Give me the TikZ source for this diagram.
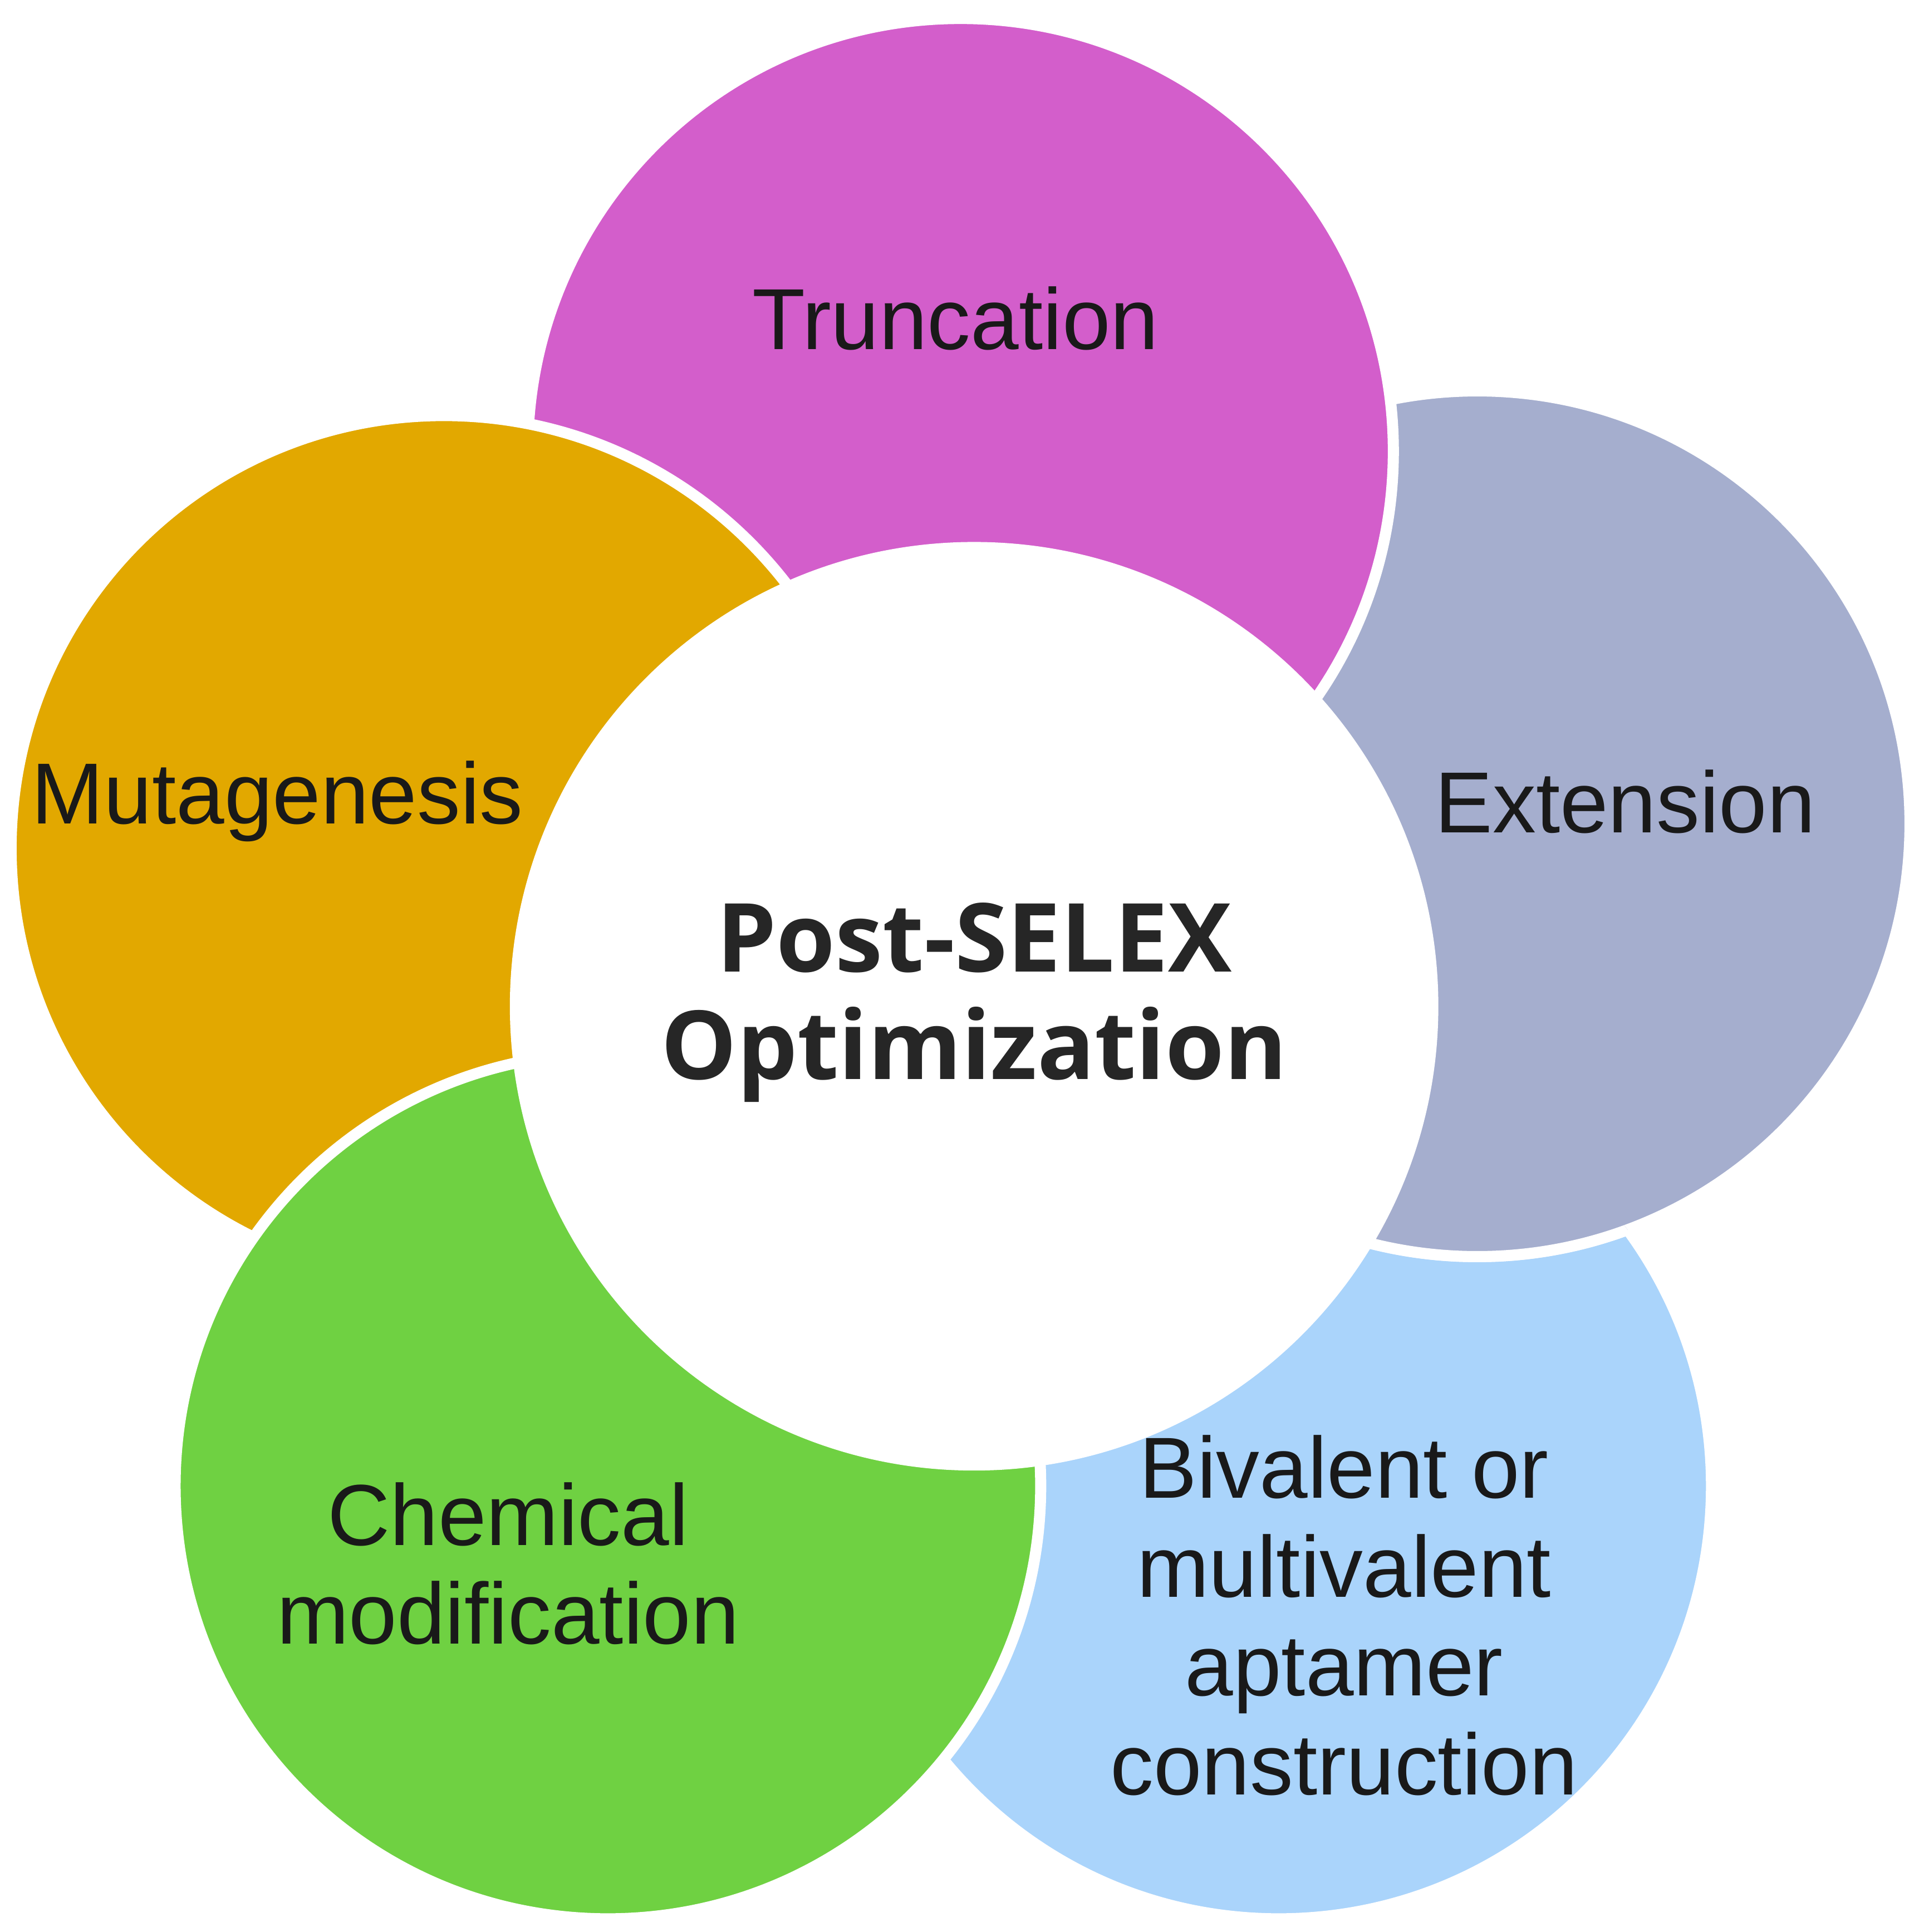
\documentclass[tikz,border=0pt]{standalone}
\usepackage{fontspec}
\setmainfont{Liberation Sans}
\newfontfamily\ctrfont{Open Sans}
\definecolor{cmag}{HTML}{D35ECB}
\definecolor{cgry}{HTML}{A5AECE}
\definecolor{cblu}{HTML}{AAD4FB}
\definecolor{cgrn}{HTML}{6FD142}
\definecolor{corg}{HTML}{E2A800}
\tikzset{petal/.style={circle,draw=white,line width=0.09cm,minimum size=7.02cm,inner sep=0pt},
 lab/.style={align=center,font=\fontsize{20}{22.8}\selectfont,text=black!90}}
\begin{document}
\begin{tikzpicture}
\useasboundingbox (0,0) rectangle (15.6,-15.667);
\node[petal,fill=cblu] (blu) at (10.37,-12.05) {};
\node[petal,fill=cgry] (gry) at (11.98,-6.68) {};
\node[petal,fill=cmag] (mag) at (7.79,-3.66) {};
\node[petal,fill=corg] (org) at (3.60,-6.88) {};
\node[petal,fill=cgrn] (grn) at (4.93,-12.05) {};
\begin{scope}
\clip (10.37,-12.05) circle (3.51);
\node[petal,fill=cgry] at (11.98,-6.68) {};
\end{scope}
\node[petal,fill=white,minimum size=7.44cm] (ctr) at (7.90,-8.16) {};
\node[lab] (t1) at (7.75,-2.58) {Truncation};
\node[lab] (t2) at (13.18,-6.50) {Extension};
\node[lab] (t3) at (2.25,-6.50) {Mutagenesis};
\node[lab] (t4) at (4.12,-12.68) {Chemical\\modification};
\node[lab] (t5) at (10.90,-13.10) {Bivalent or\\multivalent\\aptamer\\construction};
\node[align=center,font=\ctrfont\bfseries\fontsize{22}{24.7}\selectfont,text=black!85] (c) at (7.90,-8.13) {Post-SELEX\\Optimization};
\end{tikzpicture}
\end{document}
